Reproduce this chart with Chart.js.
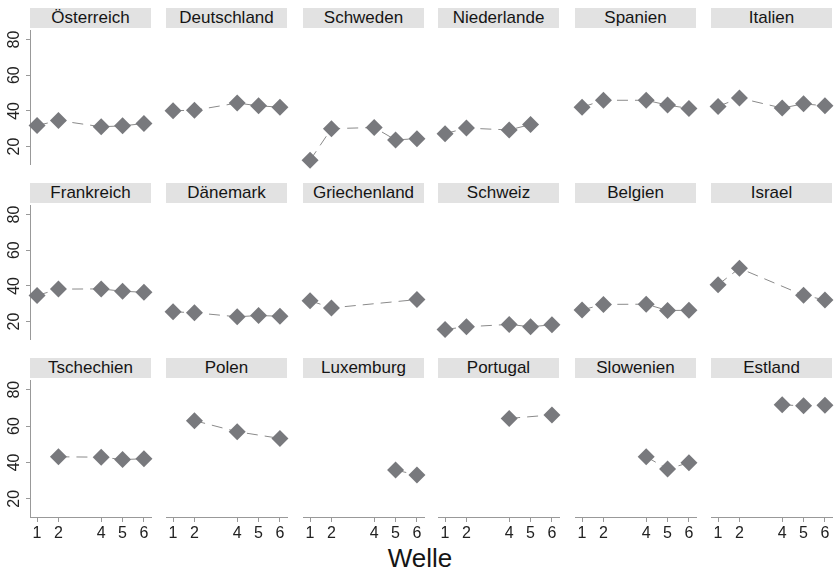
<!DOCTYPE html>
<html>
<head>
<meta charset="utf-8">
<script src="https://cdn.jsdelivr.net/npm/chart.js"></script>
<style>
    body { margin: 0; background: #fff; font-family: "Liberation Sans", Arial, sans-serif; }
    #wrap { position: relative; width: 834px; height: 573px; overflow: hidden; }
    .hdr { position: absolute; width: 121px; height: 20px; line-height: 20px; background: #e2e2e2;
           color: #151515; font-size: 17px; text-align: center; }
    canvas { position: absolute; }
    #xtitle { position: absolute; left: 360px; top: 543px; width: 120px; text-align: center;
              font-size: 26px; color: #151515; }
</style>
</head>
<body>
<div id="wrap">
    <div id="xtitle">Welle</div>
</div>
<script>
    // waves on the x axis
    var waves = [1, 2, 4, 5, 6];
    var yTicks = [20, 40, 60, 80];

    var countries = ["Österreich", "Deutschland", "Schweden", "Niederlande", "Spanien", "Italien",
        "Frankreich", "Dänemark", "Griechenland", "Schweiz", "Belgien", "Israel",
        "Tschechien", "Polen", "Luxemburg", "Portugal", "Slowenien", "Estland"];

    // values per wave (null = not surveyed)
    var oesterreich  = [31.8, 34.6, 31.1, 31.6, 32.9];
    var deutschland  = [40.4, 40.6, 44.5, 43.0, 42.3];
    var schweden     = [13.6, 30.7, 31.3, 24.6, 25.3];
    var niederlande  = [28.0, 31.0, 30.0, 32.9, null];
    var spanien      = [42.3, 46.0, 46.0, 43.4, 41.6];
    var italien      = [42.7, 47.2, 41.8, 44.1, 43.0];
    var frankreich   = [34.6, 38.2, 38.3, 37.0, 36.4];
    var daenemark    = [26.3, 25.8, 23.6, 24.3, 23.9];
    var griechenland = [32.3, 28.4, null, null, 32.9];
    var schweiz      = [16.8, 18.2, 19.5, 18.2, 19.3];
    var belgien      = [27.3, 30.3, 30.4, 27.0, 27.1];
    var israel       = [40.9, 49.8, null, 35.2, 32.7];
    var tschechien   = [null, 43.1, 42.9, 41.6, 42.0];
    var polen        = [null, 62.0, 56.0, null, 52.4];
    var luxemburg    = [null, null, null, 35.4, 32.6];
    var portugal     = [null, null, 63.2, null, 65.1];
    var slowenien    = [null, null, 42.5, 35.9, 39.3];
    var estland      = [null, null, 70.5, 70.0, 70.3];

    var series = [oesterreich, deutschland, schweden, niederlande, spanien, italien,
        frankreich, daenemark, griechenland, schweiz, belgien, israel,
        tschechien, polen, luxemburg, portugal, slowenien, estland];

    var colLeft = [30, 166, 303, 438, 575, 711];
    var rowTop = [8, 183, 358];
    var panelW = 121, panelH = 139, hdrH = 20, pad = 10;
    var wrap = document.getElementById("wrap");

    countries.forEach(function (name, i) {
        var col = i % 6, row = Math.floor(i / 6);
        var firstCol = col === 0, lastRow = row === 2;

        var hdr = document.createElement("div");
        hdr.className = "hdr";
        hdr.style.left = colLeft[col] + "px";
        hdr.style.top = rowTop[row] + "px";
        hdr.textContent = name;
        wrap.appendChild(hdr);

        var leftExtra = firstCol ? 30 : pad;
        var bottomExtra = lastRow ? 30 : pad;
        var cv = document.createElement("canvas");
        cv.width = leftExtra + panelW + pad;
        cv.height = pad + panelH + bottomExtra;
        cv.style.left = (colLeft[col] - leftExtra) + "px";
        cv.style.top = (rowTop[row] + hdrH - pad) + "px";
        wrap.appendChild(cv);

        var pts = waves.map(function (w, k) { return { x: w, y: series[i][k] }; });

        new Chart(cv.getContext("2d"), {
            type: "line",
            data: {
                datasets: [{
                    data: pts,
                    spanGaps: true,
                    clip: false,
                    borderColor: "#8a8a8a",
                    borderWidth: 1,
                    borderDash: [11, 7],
                    pointStyle: "rectRot",
                    pointRadius: 8.5,
                    pointBackgroundColor: "#78797d",
                    pointBorderColor: "#78797d",
                    pointBorderWidth: 0
                }]
            },
            options: {
                responsive: false,
                devicePixelRatio: 1,
                animation: false,
                layout: { padding: { left: firstCol ? 0 : pad, top: pad, right: pad, bottom: lastRow ? 0 : pad } },
                plugins: { legend: { display: false }, tooltip: { enabled: false } },
                scales: {
                    x: {
                        type: "linear",
                        min: 0.67,
                        max: 6.33,
                        display: lastRow,
                        afterBuildTicks: function (s) { s.ticks = waves.map(function (v) { return { value: v }; }); },
                        afterFit: function (s) { if (lastRow) s.height = 30; },
                        grid: { display: true, drawOnChartArea: false, drawTicks: true, tickLength: 5, color: "#999" },
                        border: { display: true, color: "#999" },
                        ticks: { font: { size: 16, family: "Liberation Sans" }, color: "#222", padding: 2, maxRotation: 0 }
                    },
                    y: {
                        min: 10,
                        max: 85,
                        display: firstCol,
                        afterBuildTicks: function (s) { s.ticks = yTicks.map(function (v) { return { value: v }; }); },
                        afterFit: function (s) { if (firstCol) s.width = 30; },
                        grid: { display: true, drawOnChartArea: false, drawTicks: true, tickLength: 4, color: "#999" },
                        border: { display: true, color: "#999" },
                        ticks: { font: { size: 16, family: "Liberation Sans" }, color: "#222", padding: 3,
                                 minRotation: 90, maxRotation: 90, crossAlign: "center" }
                    }
                }
            }
        });
    });
</script>
</body>
</html>
